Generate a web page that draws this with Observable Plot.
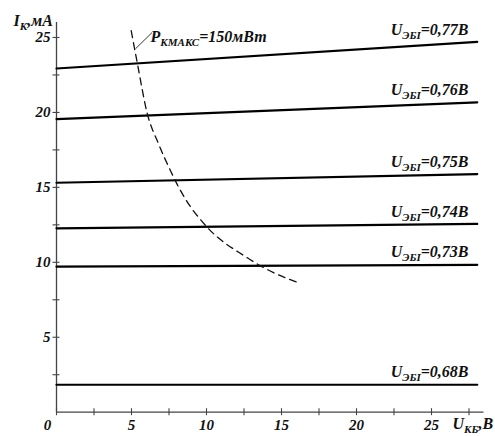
<!DOCTYPE html>
<html>
<head>
<meta charset="utf-8">
<script src="https://cdn.jsdelivr.net/npm/d3@7"></script>
<script src="https://cdn.jsdelivr.net/npm/@observablehq/plot@0.6"></script>
<style>
  html, body { margin: 0; padding: 0; background: white; }
</style>
</head>
<body>
<div id="chart"></div>
<script>
// ---- data ----
const xTickValues = [0, 2.5, 5, 7.5, 10, 12.5, 15, 17.5, 20, 22.5, 25, 27.5];
const xTickLabels = [5, 10, 15, 20, 25];
const yTickValues = [2.5, 5, 7.5, 10, 12.5, 15, 17.5, 20, 22.5, 25];
const yTickLabels = [5, 10, 15, 20, 25];

const seriesLabels = ["0,77В", "0,76В", "0,75В", "0,74В", "0,73В", "0,68В"];
const iAtStart = [22.93, 19.56, 15.31, 12.27, 9.71, 1.83];   // mA at U_KB = 0
const iAtEnd   = [24.71, 20.67, 15.89, 12.56, 9.83, 1.83];   // mA at U_KB = 28
const uStart = 0, uEnd = 28.05, uLabel = 27.47;

// P_Kmax = 150 mW curve
const pU = [4.98, 5.38, 6.05, 6.8, 7.6, 8.27, 8.93, 9.6, 10.13, 12.6, 13.8, 16.27];
const pI = [25.45, 23.33, 19.93, 17.91, 16.11, 14.78, 13.71, 12.85, 12.25, 10.38, 9.65, 8.58];

// leader for the power label
const leaderU = [5.27, 6.37];
const leaderI = [24.25, 25.33];

// ---- derived tables ----
const lines = seriesLabels.flatMap((s, k) => [
  {s, u: uStart, i: iAtStart[k]},
  {s, u: uEnd, i: iAtEnd[k]}
]);
const labels = seriesLabels.map((s, k) => ({
  text: "U|ЭБI|=" + s,
  u: uLabel,
  i: iAtStart[k] + (iAtEnd[k] - iAtStart[k]) * uLabel / uEnd
}));
const power = pU.map((u, k) => ({u, i: pI[k]}));

const font = {fontFamily: "Liberation Serif", fontWeight: "bold", fontStyle: "italic", fill: "#111"};

const chart = Plot.plot({
  width: 495,
  height: 436,
  marginLeft: 56,
  marginRight: 11.5,
  marginTop: 22,
  marginBottom: 24.3,
  x: {domain: [0, 28.5], axis: null},
  y: {domain: [0, 26], axis: null},
  style: {background: "white", overflow: "visible"},
  marks: [
    // axes
    Plot.ruleY([0], {stroke: "#444", strokeWidth: 1.3}),
    Plot.ruleX([0], {stroke: "#444", strokeWidth: 1.3}),
    Plot.ruleX(xTickValues, {x: d => d, y1: 0, y2: 0, insetTop: -3.5, insetBottom: -3.5, stroke: "#444", strokeWidth: 1.1}),
    Plot.ruleY(yTickValues, {y: d => d, x1: 0, x2: 0, insetLeft: -3.5, insetRight: -3.5, stroke: "#444", strokeWidth: 1.1}),
    Plot.text(xTickLabels, {x: d => d, y: 0, dy: 18, lineAnchor: "bottom", text: d => String(d), fontSize: 15, ...font}),
    Plot.text([0], {x: d => d, y: 0, dx: -9, dy: 18, lineAnchor: "bottom", text: d => String(d), fontSize: 15, ...font}),
    Plot.text(yTickLabels, {x: 0, y: d => d, dx: -6, textAnchor: "end", text: d => String(d), fontSize: 15, ...font}),
    // axis titles
    Plot.text(["I|К|,мА"], {frameAnchor: "top-left", dx: -43, dy: 3, lineAnchor: "bottom", textAnchor: "start", text: d => d, fontSize: 16, ...font}),
    Plot.text(["U|КБ|,В"], {frameAnchor: "bottom-right", dx: -31.5, dy: 17, lineAnchor: "bottom", textAnchor: "start", text: d => d, fontSize: 16, ...font}),
    // characteristic lines
    Plot.line(lines, {x: "u", y: "i", z: "s", stroke: "#000", strokeWidth: 2.2}),
    Plot.text(labels, {x: "u", y: "i", dy: -7.5, lineAnchor: "bottom", textAnchor: "end", text: "text", fontSize: 16, ...font}),
    // power hyperbola
    Plot.line(power, {x: "u", y: "i", curve: "monotone-x", stroke: "#111", strokeWidth: 1.3, strokeDasharray: "7,5"}),
    Plot.link([0], {x1: () => leaderU[0], y1: () => leaderI[0], x2: () => leaderU[1], y2: () => leaderI[1], stroke: "#333", strokeWidth: 1}),
    Plot.text(["P|КМАКС|=150мВт"], {x: () => 6.27, y: () => 24.67, lineAnchor: "bottom", textAnchor: "start", text: d => d, fontSize: 16, ...font})
  ]
});

// turn "main|sub|rest" into tspans with a subscript
d3.select(chart).selectAll("text").each(function() {
  const t = this.textContent;
  if (!t.includes("|")) return;
  const [a, b, c] = t.split("|");
  const sel = d3.select(this);
  sel.text(null);
  sel.append("tspan").text(a);
  sel.append("tspan").attr("dy", 4).attr("font-size", 11).text(b);
  sel.append("tspan").attr("dy", -4).text(c);
});

document.getElementById("chart").appendChild(chart);
</script>
</body>
</html>
